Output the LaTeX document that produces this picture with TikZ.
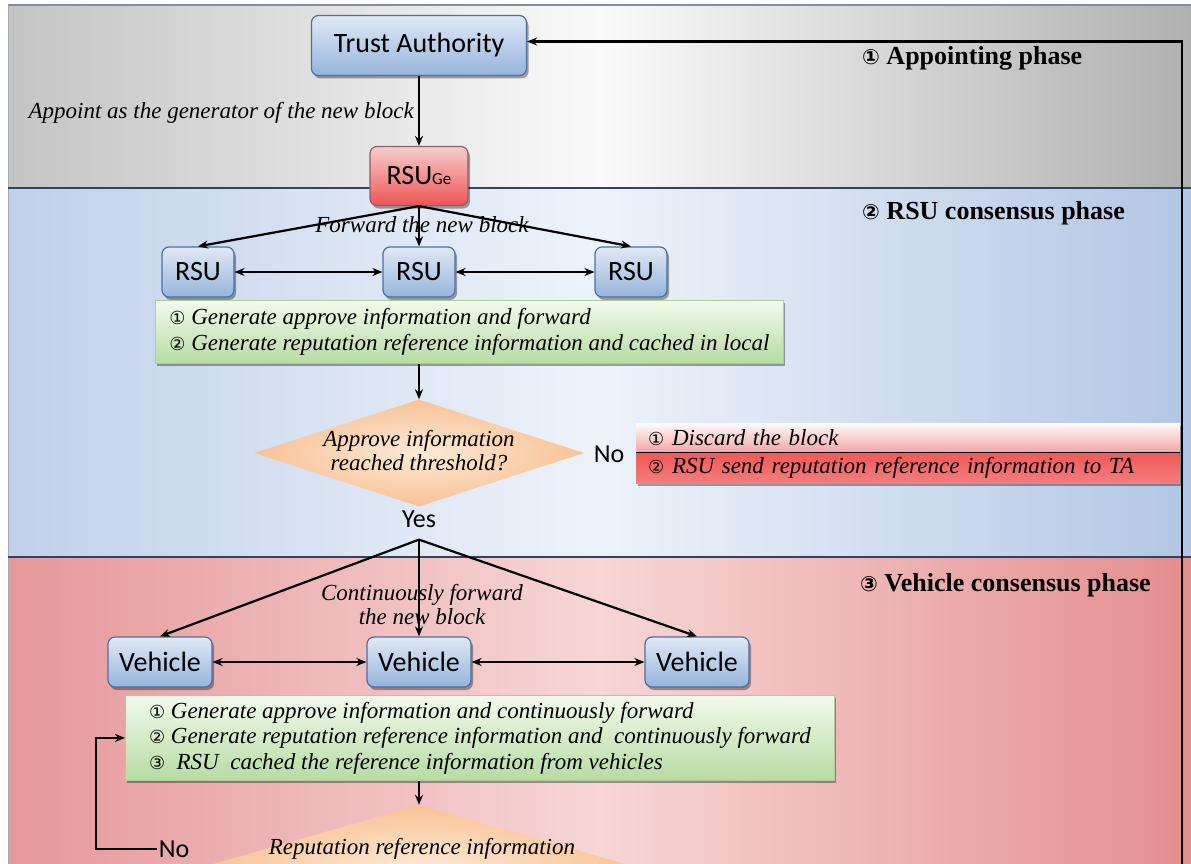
\documentclass[tikz,border=0pt]{standalone}
\usepackage{fontspec}
\usetikzlibrary{shapes.geometric,arrows.meta,shadows}
\newfontfamily\labf{Carlito}
\newfontfamily\serf{Liberation Serif}
\newfontfamily\symf{DejaVu Sans}
\newcommand{\cirA}{{\symf\upshape\mdseries\fontsize{18}{25}\selectfont ①}}
\newcommand{\cirB}{{\symf\upshape\mdseries\fontsize{18}{25}\selectfont ②}}
\newcommand{\cirC}{{\symf\upshape\mdseries\fontsize{18}{25}\selectfont ③}}
\newcommand{\bcirA}{{\symf\upshape\bfseries\fontsize{21}{25}\selectfont ①}}
\newcommand{\bcirB}{{\symf\upshape\bfseries\fontsize{21}{25}\selectfont ②}}
\newcommand{\bcirC}{{\symf\upshape\bfseries\fontsize{21}{25}\selectfont ③}}
\definecolor{gL}{RGB}{196,196,196}
\definecolor{gM}{RGB}{250,250,250}
\definecolor{gR}{RGB}{176,176,176}
\definecolor{bL}{RGB}{192,209,234}
\definecolor{bM}{RGB}{238,243,250}
\definecolor{bR}{RGB}{178,198,228}
\definecolor{rL}{RGB}{230,152,154}
\definecolor{rM}{RGB}{247,214,214}
\definecolor{rR}{RGB}{228,142,142}
\definecolor{bandline}{RGB}{50,66,98}
\definecolor{nbTop}{RGB}{224,233,246}
\definecolor{nbBot}{RGB}{150,180,220}
\definecolor{nbBorder}{RGB}{80,110,160}
\definecolor{geTop}{RGB}{247,205,205}
\definecolor{geBot}{RGB}{238,85,85}
\definecolor{geBorder}{RGB}{140,95,110}
\definecolor{grTop}{RGB}{243,250,238}
\definecolor{grBot}{RGB}{182,220,162}
\definecolor{grBorder}{RGB}{175,205,155}
\definecolor{diIn}{RGB}{253,234,214}
\definecolor{diOut}{RGB}{249,194,150}
\definecolor{ruTop}{RGB}{255,250,250}
\definecolor{ruBot}{RGB}{242,165,165}
\definecolor{rlTop}{RGB}{240,88,88}
\definecolor{rlBot}{RGB}{245,125,125}
\begin{document}
\begin{tikzpicture}[x=1pt,y=-1pt,
  shad/.style={drop shadow={shadow xshift=2pt,shadow yshift=-3pt,opacity=0.35,fill=black}},
  arr/.style={line width=2.2pt,-{Stealth[length=10pt,width=8pt]}},
  darr/.style={line width=2.2pt,{Stealth[length=10pt,width=8pt]}-{Stealth[length=10pt,width=8pt]}},
  bluebox/.style={draw=nbBorder,line width=1.2pt,rounded corners=7pt,top color=nbTop,bottom color=nbBot,shad,
    font=\labf\fontsize{28}{30}\selectfont,inner sep=0pt},
  gebox/.style={draw=geBorder,line width=1.2pt,rounded corners=7pt,top color=geTop,bottom color=geBot,shad,
    font=\labf\fontsize{28}{30}\selectfont,inner sep=0pt},
  greenbox/.style={draw=grBorder,line width=0.8pt,top color=grTop,bottom color=grBot,shad,
    font=\serf\itshape\fontsize{23}{25.5}\selectfont,align=left,inner ysep=4pt},
  diam/.style={diamond,inner sep=0pt,inner color=diIn,outer color=diOut},
  itx/.style={font=\serf\itshape\fontsize{23}{24}\selectfont,inner sep=1pt},
  lab/.style={font=\labf\fontsize{26}{28}\selectfont,inner sep=2pt},
  ttl/.style={font=\serf\bfseries\fontsize{26}{28}\selectfont,inner sep=0pt,anchor=west},
  redu/.style={top color=ruTop,bottom color=ruBot,shad,font=\serf\itshape\fontsize{23}{25}\selectfont,
    align=left,inner xsep=12pt,inner ysep=0pt},
  redl/.style={top color=rlTop,bottom color=rlBot,shad,font=\serf\itshape\fontsize{23}{25}\selectfont,
    align=left,inner xsep=12pt,inner ysep=0pt}]
\useasboundingbox (0,0) rectangle (1191,864);
\fill[white] (0,0) rectangle (1191,864);
% phase bands
\fill[left color=gL,right color=gR,middle color=gM] (8,5) rectangle (1191,188);
\fill[left color=bL,right color=bR,middle color=bM] (8,188) rectangle (1191,557);
\fill[left color=rL,right color=rR,middle color=rM] (8,557) rectangle (1191,864);
\draw[bandline!60,line width=1.2pt] (8,5) -- (1191,5);
\draw[bandline!45,line width=1pt] (8,5) -- (8,864);
\draw[bandline,line width=2pt] (8,188) -- (1191,188);
\draw[bandline,line width=2pt] (8,557) -- (1191,557);
% phase titles
\node[ttl] (t1) at (862,58) {\bcirA\ Appointing phase};
\node[ttl] (t2) at (862,213) {\bcirB\ RSU consensus phase};
\node[ttl] (t3) at (860,585) {\bcirC\ Vehicle consensus phase};
% appointing phase
\node[bluebox,minimum width=215pt,minimum height=60pt] (ta) at (419,45.5) {Trust Authority};
\node[gebox,minimum width=98pt,minimum height=59pt] (ge) at (419,176) {RSU{\fontsize{17}{17}\selectfont Ge}};
\draw[arr] (ta) -- (ge);
\node[itx,anchor=east] (lapp) at (415,113) {Appoint as the generator of the new block};
% RSU consensus phase
\node[bluebox,minimum width=72pt,minimum height=50pt] (r1) at (198,272) {RSU};
\node[bluebox,minimum width=72pt,minimum height=50pt] (r2) at (419,272) {RSU};
\node[bluebox,minimum width=72pt,minimum height=50pt] (r3) at (631,272) {RSU};
\draw[arr] (ge.south) -- (r1.north);
\draw[arr] (ge.south) -- (r2.north);
\draw[arr] (ge.south) -- (r3.north);
\node[itx] (lfw) at (422,225) {Forward the new block};
\draw[darr] (r1) -- (r2);
\draw[darr] (r2) -- (r3);
\node[greenbox,anchor=north west,minimum width=625pt,minimum height=63pt,inner xsep=14pt] (g1) at (155,300)
  {\cirA\ Generate approve information and forward\\
   \cirB\ Generate reputation reference information and cached in local};
\node[diam,minimum width=330pt,minimum height=107pt] (d1) at (419,453) {};
\node[itx,align=center] (d1t) at (419,451) {Approve information\\reached threshold?};
\draw[arr] (g1.south -| d1.north) -- (d1.north);
\node[lab] (no1) at (609,454) {No};
\node[redu,anchor=north west,minimum width=544pt,minimum height=29pt,text width=520pt] (rbu) at (636,423) {\cirA\ Discard the block};
\node[redl,anchor=north west,minimum width=544pt,minimum height=31pt,text width=520pt] (rbl) at (636,452) {\cirB\ RSU send reputation reference information to TA};
\draw[line width=1.5pt] (rbu.south west) -- (rbu.south east);
\node[lab,inner ysep=12pt] (yes) at (419,519) {Yes};
% vehicle consensus phase
\node[bluebox,minimum width=104pt,minimum height=50pt] (v1) at (160,662) {Vehicle};
\node[bluebox,minimum width=104pt,minimum height=50pt] (v2) at (419,662) {Vehicle};
\node[bluebox,minimum width=104pt,minimum height=50pt] (v3) at (697,662) {Vehicle};
\draw[arr] (yes.south) -- (v1.north);
\draw[arr] (yes.south) -- (v2.north);
\draw[arr] (yes.south) -- (v3.north);
\node[itx,align=center] (lcf) at (422,605) {Continuously forward\\the new block};
\draw[darr] (v1) -- (v2);
\draw[darr] (v2) -- (v3);
\node[greenbox,anchor=north west,minimum width=709pt,minimum height=85pt,inner xsep=9pt] (g2) at (125,695)
  {\cirA\ Generate approve information and continuously forward\\
   \cirB\ Generate reputation reference information and \ continuously forward\\
   \cirC\ \ RSU \ cached the reference information from vehicles};
\node[diam,minimum width=440pt,minimum height=126pt] (d2) at (419,868) {};
\node[itx] (d2t) at (422,849) {Reputation reference information};
\draw[arr] (g2.south -| d2.north) -- (d2.north);
\node[lab] (no2) at (174,849) {No};
\coordinate (lc) at (96,800);
\draw[arr] (no2.west) -| (lc) |- (g2.west);
% return line to the Trust Authority
\coordinate (tb) at (1182,864);
\draw[arr] (tb) |- ([yshift=4pt]ta.east);
\end{tikzpicture}
\end{document}
